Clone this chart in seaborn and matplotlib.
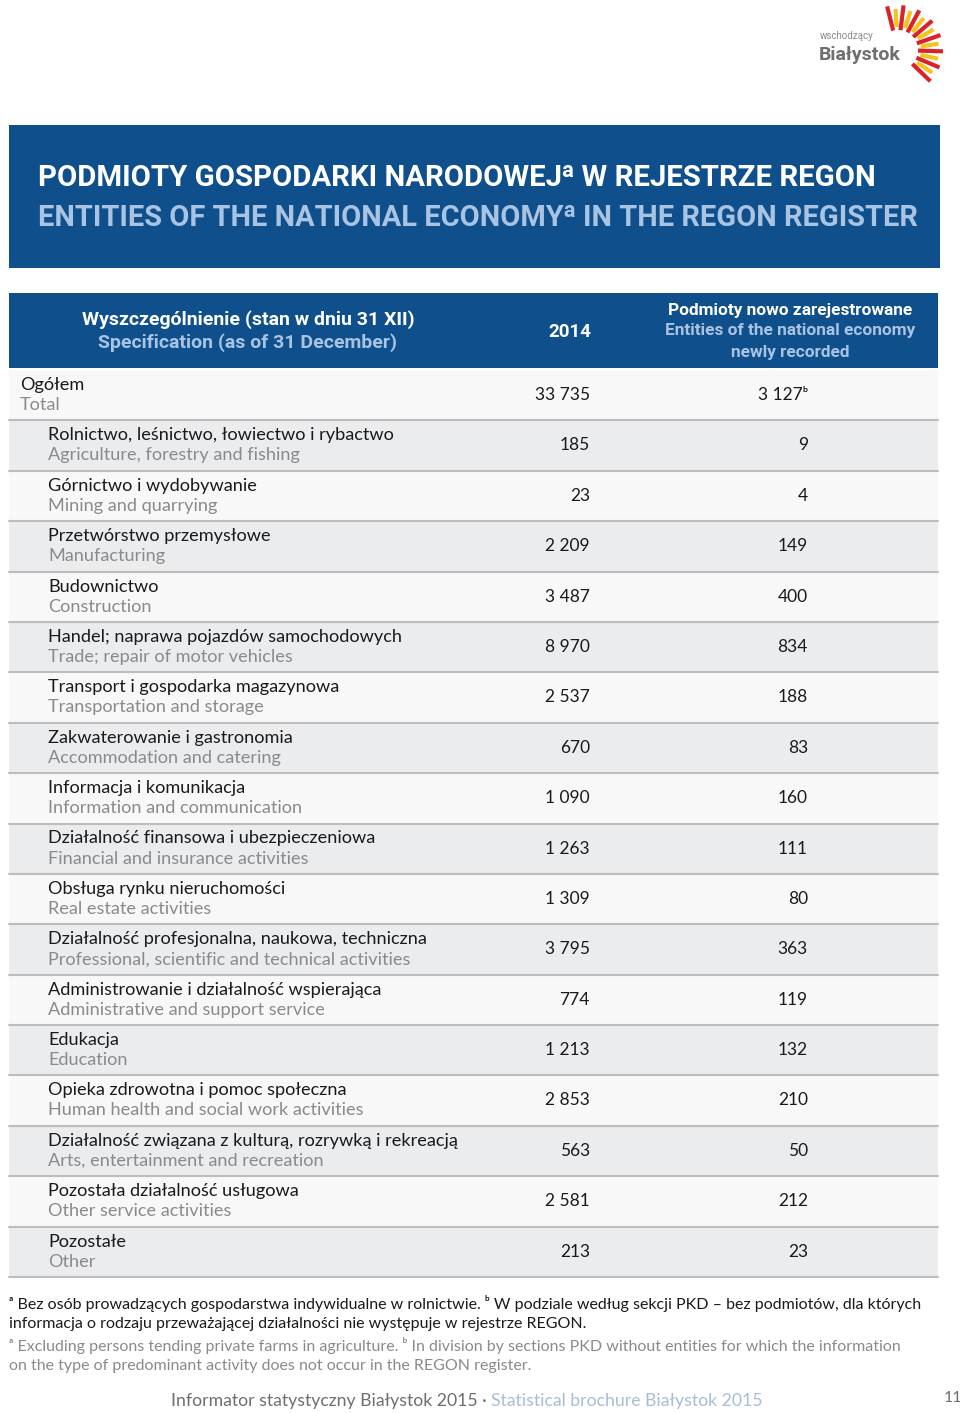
import numpy as np
import pandas as pd
import matplotlib
matplotlib.use('Agg')
import matplotlib.pyplot as plt
import seaborn as sns
from matplotlib.colors import ListedColormap

# ---- data ----
names_pl = ['Ogółem', 'Rolnictwo, leśnictwo, łowiectwo i rybactwo', 'Górnictwo i wydobywanie',
            'Przetwórstwo przemysłowe', 'Budownictwo', 'Handel; naprawa pojazdów samochodowych',
            'Transport i gospodarka magazynowa', 'Zakwaterowanie i gastronomia',
            'Informacja i komunikacja', 'Działalność finansowa i ubezpieczeniowa',
            'Obsługa rynku nieruchomości', 'Działalność profesjonalna, naukowa, techniczna',
            'Administrowanie i działalność wspierająca', 'Edukacja',
            'Opieka zdrowotna i pomoc społeczna', 'Działalność związana z kulturą, rozrywką i rekreacją',
            'Pozostała działalność usługowa', 'Pozostałe']
names_en = ['Total', 'Agriculture, forestry and fishing', 'Mining and quarrying', 'Manufacturing',
            'Construction', 'Trade; repair of motor vehicles', 'Transportation and storage',
            'Accommodation and catering', 'Information and communication',
            'Financial and insurance activities', 'Real estate activities',
            'Professional, scientific and technical activities', 'Administrative and support service',
            'Education', 'Human health and social work activities', 'Arts, entertainment and recreation',
            'Other service activities', 'Other']
entities_2014 = [33735, 185, 23, 2209, 3487, 8970, 2537, 670, 1090, 1263, 1309, 3795, 774, 1213,
                 2853, 563, 2581, 213]
newly_recorded = [3127, 9, 4, 149, 400, 834, 188, 83, 160, 111, 80, 363, 119, 132, 210, 50, 212, 23]

df = pd.DataFrame({'pl': names_pl, 'en': names_en, 'y2014': entities_2014, 'new': newly_recorded})

sns.set_theme(style='white')
plt.rcParams['font.family'] = ['Lato', 'DejaVu Sans']

W, H = 960, 1413
fig = plt.figure(figsize=(9.6, 14.13), dpi=100)
fig.patch.set_facecolor('white')

BLUE = '#0e4f8c'
LIGHT = '#a9c3e3'
DARK = '#1a1a1a'
GREY = '#8a8a8a'
HEAD = ['Roboto', 'DejaVu Sans']
BODY = ['Lato', 'DejaVu Sans']


def fmt(v):
    return f'{v:,}'.replace(',', ' ')


# striped row backgrounds drawn with seaborn heatmap
top, bottom = 370, 1277
left, right = 9, 938
hax = fig.add_axes([left / W, 1 - bottom / H, (right - left) / W, (bottom - top) / H])
stripes = pd.DataFrame({'s': [i % 2 for i in range(len(df))]})
sns.heatmap(stripes, ax=hax, cmap=ListedColormap(['#f8f8f8', '#ebecee']), cbar=False,
            xticklabels=False, yticklabels=False, linewidths=0)
hax.set_axis_off()

# overlay axes in pixel coordinates
ax = fig.add_axes([0, 0, 1, 1])
ax.set_xlim(0, W)
ax.set_ylim(H, 0)
ax.set_axis_off()
ax.patch.set_alpha(0)

# title band
ax.add_patch(plt.Rectangle((9, 125), 931, 143, color=BLUE, lw=0))
ax.text(38, 178, 'PODMIOTY GOSPODARKI NARODOWEJᵃ W REJESTRZE REGON', color='white',
        fontsize=21.2, fontweight='bold', family=HEAD, va='center', ha='left')
ax.text(38, 218, 'ENTITIES OF THE NATIONAL ECONOMYᵃ IN THE REGON REGISTER', color=LIGHT,
        fontsize=20.9, fontweight='bold', family=HEAD, va='center', ha='left')

# header band
ax.add_patch(plt.Rectangle((9, 293), 929, 75, color=BLUE, lw=0))
ax.text(248, 320, 'Wyszczególnienie (stan w dniu 31 XII)', color='white', fontsize=14,
        fontweight='bold', family=HEAD, ha='center', va='center')
ax.text(248, 343, 'Specification (as of 31 December)', color=LIGHT, fontsize=14,
        fontweight='bold', family=HEAD, ha='center', va='center')
ax.text(570, 332, '2014', color='white', fontsize=13.5, fontweight='bold', family=HEAD,
        ha='center', va='center')
ax.text(790, 310, 'Podmioty nowo zarejestrowane', color='white', fontsize=12.4,
        fontweight='bold', family=HEAD, ha='center', va='center')
ax.text(790, 331, 'Entities of the national economy', color=LIGHT, fontsize=12.4,
        fontweight='bold', family=HEAD, ha='center', va='center')
ax.text(790, 352, 'newly recorded', color=LIGHT, fontsize=12.4,
        fontweight='bold', family=HEAD, ha='center', va='center')

# rows
row_h = (bottom - top) / len(df)
for i, r in df.iterrows():
    y0 = top + i * row_h
    x0 = 20 if i == 0 else 48
    ax.text(x0, y0 + 15, r['pl'], color=DARK, fontsize=13.1, family=BODY,
            ha='left', va='center')
    ax.text(x0, y0 + 35, r['en'], color=GREY, fontsize=13.1, family=BODY,
            ha='left', va='center')
    ax.text(590, y0 + 25, fmt(r['y2014']), color=DARK, fontsize=12.5, family=BODY,
            ha='right', va='center')
    new_lbl = fmt(r['new']) + ('ᵇ' if i == 0 else '')
    ax.text(808, y0 + 25, new_lbl, color=DARK, fontsize=12.5, family=BODY,
            ha='right', va='center')
    ax.plot([9, 938], [y0 + row_h, y0 + row_h], color='#bdbdbd', lw=1.5)

# footnotes
fn_kw = dict(fontsize=11.5, ha='left', va='center', family=BODY)
ax.text(9, 1303, 'ᵃ Bez osób prowadzących gospodarstwa indywidualne w rolnictwie. ᵇ W podziale według '
        'sekcji PKD – bez podmiotów, dla których', color=DARK, **fn_kw)
ax.text(9, 1324, 'informacja o rodzaju przeważającej działalności nie występuje w rejestrze REGON.',
        color=DARK, **fn_kw)
ax.text(9, 1345, 'ᵃ Excluding persons tending private farms in agriculture. ᵇ In division by sections PKD '
        'without entities for which the information', color=GREY, **fn_kw)
ax.text(9, 1366, 'on the type of predominant activity does not occur in the REGON register.',
        color=GREY, **fn_kw)

# footer
ax.text(491, 1401, 'Informator statystyczny Białystok 2015 · ', color='#6e6e6e', fontsize=12.7,
        family=BODY, ha='right', va='center')
ax.text(491, 1401, 'Statistical brochure Białystok 2015', color='#a7bdd6', fontsize=12.7,
        family=BODY, ha='left', va='center')
ax.text(953, 1398, '11', color='#6e6e6e', fontsize=11.5, family=BODY, ha='center', va='center')

# logo
cx, cy = 898, 50
angles = np.linspace(104, -44, 15)
for k, a in enumerate(angles):
    t = np.deg2rad(a)
    r0, r1 = (20, 45) if k % 2 == 0 else (23, 41)
    col = '#d9232b' if k % 2 == 0 else '#f6c21c'
    ax.plot([cx + r0 * np.cos(t), cx + r1 * np.cos(t)], [cy - r0 * np.sin(t), cy - r1 * np.sin(t)],
            color=col, lw=3.0, solid_capstyle='butt')
ax.text(820, 36, 'wschodzący', color='#8a8a8a', fontsize=7, ha='left', va='center', family=HEAD)
ax.text(819, 55, 'Białystok', color='#6f6f6f', fontsize=14, fontweight='bold', ha='left',
        va='center', family=HEAD)

fig.savefig('out.png', dpi=100)
